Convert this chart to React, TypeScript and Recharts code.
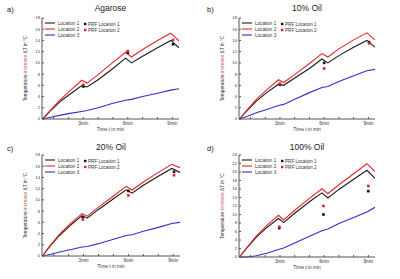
import { ComposedChart, Line, Scatter, XAxis, YAxis, Legend } from 'recharts'

const FONT = '"Liberation Sans", Arial, sans-serif'

// shared time base (min) for the simulated curves
const times = [0.25, 0.8, 1.4, 2.1, 2.9, 3.25, 4.0, 5.0, 5.85, 6.25, 7.0, 8.0, 8.9, 9.45]
const xTicks = [1, 2, 3, 4, 5, 6, 7, 8, 9]
const xTickLabels = ['', '', '3min', '', '', '6min', '', '', '9min']
const seriesNames = ['Location 1', 'Location 2', 'Location 3']
const prfNames = ['PRF Location 1', 'PRF Location 2']

// a) Agarose
const agaroseLoc1 = [0, 1.5, 3.0, 4.4, 5.95, 5.7, 7.0, 9.0, 10.85, 10.0, 11.2, 12.7, 14.0, 12.7]
const agaroseLoc2 = [0, 1.6, 3.3, 5.0, 6.9, 6.4, 7.9, 10.1, 11.9, 11.05, 12.4, 14.0, 15.3, 13.9]
const agaroseLoc3 = [0, 0.3, 0.65, 1.0, 1.35, 1.5, 2.0, 2.8, 3.35, 3.5, 4.0, 4.6, 5.15, 5.4]
const agarosePrfTimes = [3.0, 6.0, 9.05]
const agarosePrf1 = [5.8, 11.8, 13.3]
const agarosePrf2 = [6.1, 12.1, 14.1]

// b) 10% Oil
const oil10Loc1 = [0, 1.6, 3.2, 4.7, 6.2, 6.0, 7.3, 9.0, 10.7, 10.0, 11.3, 12.8, 14.0, 12.8]
const oil10Loc2 = [0, 1.7, 3.5, 5.2, 7.0, 6.5, 7.9, 9.9, 11.65, 11.05, 12.5, 14.1, 15.35, 14.1]
const oil10Loc3 = [0, 0.5, 1.1, 1.7, 2.4, 2.6, 3.5, 4.7, 5.6, 5.8, 6.7, 7.7, 8.6, 8.85]
const oil10PrfTimes = [3.0, 6.0, 9.05]
const oil10Prf1 = [6.1, 10.0, 13.7]
const oil10Prf2 = [6.3, 9.0, 13.5]

// c) 20% Oil
const oil20Loc1 = [0, 1.9, 3.7, 5.4, 7.2, 6.75, 8.3, 10.2, 11.8, 11.2, 12.6, 14.2, 15.6, 14.9]
const oil20Loc2 = [0, 2.0, 3.9, 5.7, 7.55, 7.1, 8.7, 10.7, 12.4, 11.75, 13.2, 14.9, 16.35, 15.75]
const oil20Loc3 = [0, 0.3, 0.7, 1.1, 1.6, 1.7, 2.2, 3.0, 3.65, 3.8, 4.4, 5.1, 5.8, 6.0]
const oil20PrfTimes = [2.95, 6.0, 9.05]
const oil20Prf1 = [6.9, 11.6, 15.0]
const oil20Prf2 = [6.5, 10.8, 14.4]

// d) 100% Oil
const oil100Loc1 = [0, 2.3, 4.7, 6.9, 9.05, 8.1, 10.3, 13.0, 15.1, 13.9, 15.9, 18.3, 20.4, 18.5]
const oil100Loc2 = [0, 2.4, 5.0, 7.4, 9.8, 8.7, 11.0, 13.8, 16.05, 14.9, 17.0, 19.6, 21.95, 20.1]
const oil100Loc3 = [0, 0.0, 0.3, 0.9, 1.75, 2.1, 3.3, 4.9, 6.2, 6.6, 7.9, 9.3, 10.6, 11.7]
const oil100PrfTimes = [2.95, 5.95, 9.0]
const oil100Prf1 = [6.8, 10.0, 15.5]
const oil100Prf2 = [7.1, 12.0, 16.7]

const yTicks18 = [0, 2, 4, 6, 8, 10, 12, 14, 16, 18]
const yTicks24 = [0, 2, 4, 6, 8, 10, 12, 14, 16, 18, 20, 22, 24]

const lineColors = ['#1a1a1a', '#e8262a', '#2f2fd0']
const prfColors = ['#111111', '#d8232a']

const toPoints = (xs: number[], ys: number[]) => xs.map((t, i) => ({ t, v: ys[i] }))

interface PanelProps {
  letter: string
  title: string
  loc: number[][]
  prfTimes: number[]
  prf: number[][]
  yTicks: number[]
  left: number
  right: number
  top: number
  bottom: number
  x: number
  y: number
}

const W = 200
const H = 140

function PanelLegend({ left, top }: { left: number; top: number }) {
  return (
    <svg width={W} height={H} style={{ position: 'absolute', left: 0, top: 0 }}>
      {seriesNames.map((n, i) => (
        <g key={n}>
          <line x1={left + 3} x2={left + 13} y1={top + 5 + i * 6} y2={top + 5 + i * 6} stroke={lineColors[i]} strokeWidth={1.1} />
          <text x={left + 16} y={top + 6.6 + i * 6} fontSize={4.6} fill="#333" fontFamily={FONT}>{n}</text>
        </g>
      ))}
      {prfNames.map((n, i) => (
        <g key={n}>
          <rect x={left + 42} y={top + 4.8 + i * 6} width={2.4} height={2.4} fill={prfColors[i]} />
          <text x={left + 46} y={top + 7.6 + i * 6} fontSize={4.6} fill="#333" fontFamily={FONT}>{n}</text>
        </g>
      ))}
    </svg>
  )
}

function Panel(p: PanelProps) {
  const yMax = p.yTicks[p.yTicks.length - 1]
  const cx = (p.left + p.right) / 2
  const cy = (p.top + p.bottom) / 2
  const square = (color: string) => (s: any) => (
    <rect x={s.cx - 1.3} y={s.cy - 1.3} width={2.6} height={2.6} fill={color} />
  )
  return (
    <div style={{ position: 'absolute', left: p.x, top: p.y, width: W, height: H }}>
      <ComposedChart
        width={W}
        height={H}
        margin={{ top: p.top, right: W - p.right, bottom: 0, left: 0 }}
      >
        <XAxis
          type="number"
          dataKey="t"
          domain={[0.22, 9.45]}
          ticks={xTicks}
          tickFormatter={(v: number) => xTickLabels[xTicks.indexOf(v)] ?? ''}
          height={H - p.bottom}
          tickSize={-2}
          tickMargin={5}
          interval={0}
          allowDataOverflow
          stroke="#555"
          tick={{ fontSize: 4.6, fill: '#333', fontFamily: FONT }}
        />
        <XAxis xAxisId="top" orientation="top" type="number" domain={[0.22, 9.45]} height={0} tick={false} tickLine={false} stroke="#555" />
        <YAxis
          type="number"
          dataKey="v"
          domain={[0, yMax]}
          ticks={p.yTicks}
          width={p.left}
          tickSize={-2}
          tickMargin={4}
          interval={0}
          stroke="#555"
          tick={{ fontSize: 4.2, fill: '#333', fontFamily: FONT }}
        />
        <YAxis yAxisId="right" orientation="right" type="number" domain={[0, yMax]} width={0} tick={false} tickLine={false} stroke="#555" />
        {p.loc.map((vals, i) => (
          <Line
            key={seriesNames[i]}
            name={seriesNames[i]}
            data={toPoints(times, vals)}
            dataKey="v"
            type="linear"
            stroke={lineColors[i]}
            strokeWidth={1.1}
            dot={false}
            isAnimationActive={false}
          />
        ))}
        {p.prf.map((vals, i) => (
          <Scatter
            key={prfNames[i]}
            name={prfNames[i]}
            data={toPoints(p.prfTimes, vals)}
            dataKey="v"
            fill={prfColors[i]}
            shape={square(prfColors[i])}
            isAnimationActive={false}
          />
        ))}
        <Legend
          verticalAlign="middle"
          align="center"
          wrapperStyle={{ position: 'absolute', left: 0, top: 0, width: W, height: H, pointerEvents: 'none' }}
          content={() => <PanelLegend left={p.left} top={p.top} />}
        />
      </ComposedChart>
      <svg width={W} height={H} style={{ position: 'absolute', left: 0, top: 0, pointerEvents: 'none' }} fontFamily={FONT}>
        <text x={7} y={12} fontSize={7.5} fill="#222">{p.letter}</text>
        <text x={cx} y={11} fontSize={8.5} fill="#222" textAnchor="middle">{p.title}</text>
        <text x={cx} y={p.bottom + 11.5} fontSize={4.8} fill="#333" textAnchor="middle">Time t in min</text>
        <text
          transform={`translate(${p.left - 15},${cy}) rotate(-90)`}
          fontSize={4.8}
          fill="#333"
          textAnchor="middle"
        >
          Temperature <tspan fill="#c25b66">increase</tspan> ΔT in °C
        </text>
      </svg>
    </div>
  )
}

export default function App() {
  return (
    <div style={{ position: 'absolute', left: 0, top: 0, width: 400, height: 279, background: '#fff' }}>
      <Panel letter="a)" title="Agarose" loc={[agaroseLoc1, agaroseLoc2, agaroseLoc3]} prfTimes={agarosePrfTimes}
        prf={[agarosePrf1, agarosePrf2]} yTicks={yTicks18} left={42} right={179} top={18} bottom={119} x={0} y={0} />
      <Panel letter="b)" title="10% Oil" loc={[oil10Loc1, oil10Loc2, oil10Loc3]} prfTimes={oil10PrfTimes}
        prf={[oil10Prf1, oil10Prf2]} yTicks={yTicks18} left={39} right={175} top={18} bottom={119} x={200} y={0} />
      <Panel letter="c)" title="20% Oil" loc={[oil20Loc1, oil20Loc2, oil20Loc3]} prfTimes={oil20PrfTimes}
        prf={[oil20Prf1, oil20Prf2]} yTicks={yTicks18} left={42} right={180} top={16} bottom={117} x={0} y={139} />
      <Panel letter="d)" title="100% Oil" loc={[oil100Loc1, oil100Loc2, oil100Loc3]} prfTimes={oil100PrfTimes}
        prf={[oil100Prf1, oil100Prf2]} yTicks={yTicks24} left={39} right={175} top={16} bottom={118} x={200} y={139} />
    </div>
  )
}
